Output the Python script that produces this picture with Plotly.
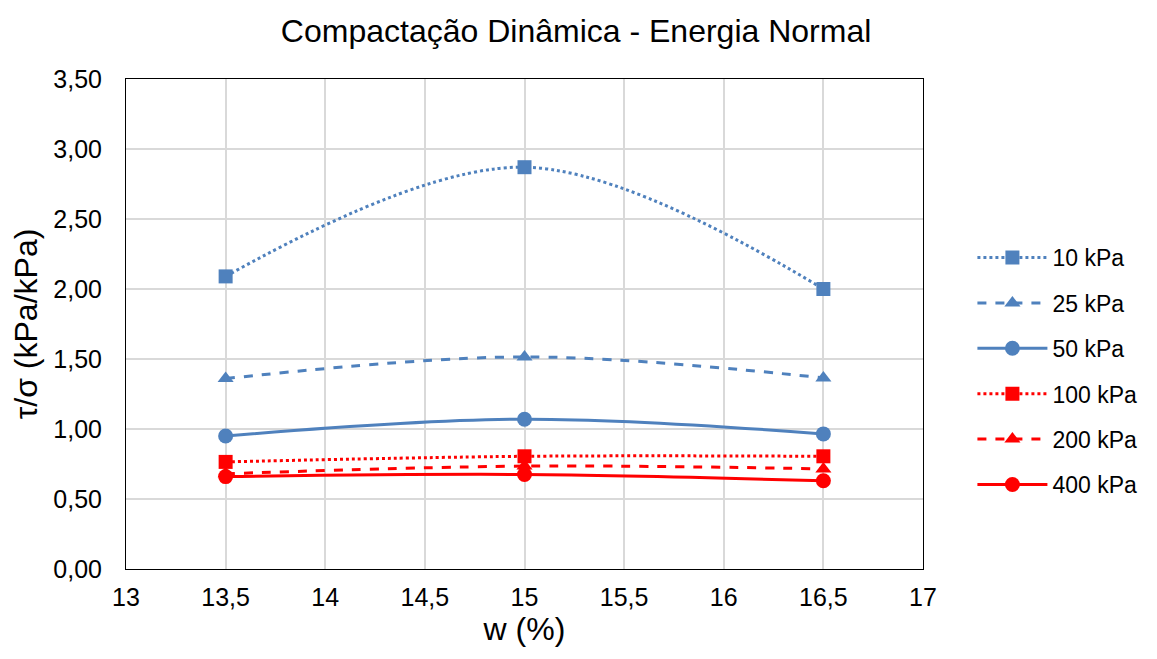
import plotly.graph_objects as go

w = [13.5, 15, 16.5]
series_names = ["10 kPa", "25 kPa", "50 kPa", "100 kPa", "200 kPa", "400 kPa"]
v10 = [2.09, 2.87, 2.00]
v25 = [1.36, 1.515, 1.365]
v50 = [0.95, 1.07, 0.965]
v100 = [0.765, 0.805, 0.805]
v200 = [0.68, 0.735, 0.715]
v400 = [0.66, 0.675, 0.63]
values = [v10, v25, v50, v100, v200, v400]

blue = "#4F81BD"
red = "#FF0000"
colors = [blue, blue, blue, red, red, red]
dashes = ["dot", "dash", "solid", "dot", "dash", "solid"]
symbols = ["square", "triangle-up", "circle", "square", "triangle-up", "circle"]
msizes = [14, 14, 15, 14, 14, 15]

x_ticks = [13, 13.5, 14, 14.5, 15, 15.5, 16, 16.5, 17]
y_ticks = [0, 0.5, 1.0, 1.5, 2.0, 2.5, 3.0, 3.5]

fig = go.Figure()
for i, (name, vals, c, d, s, ms) in enumerate(zip(series_names, values, colors, dashes, symbols, msizes)):
    fig.add_trace(go.Scatter(
        x=w, y=vals, name=name, mode="lines+markers", legendgroup=f"g{i}",
        line=dict(color=c, dash=d, width=3, shape="spline", smoothing=1),
        marker=dict(symbol=s, size=ms, color=c),
    ))

fig.update_layout(
    width=1157, height=659,
    paper_bgcolor="white", plot_bgcolor="white",
    font=dict(family="Liberation Sans, Arial", color="#000000", size=25),
    separators=",.",
    title=dict(text="Compactação Dinâmica - Energia Normal", x=0.491, xanchor="center",
               y=0.965, yanchor="middle", font=dict(size=32)),
    margin=dict(l=118, r=242, t=71, b=98, autoexpand=False),
    legend=dict(x=1.062, y=0.404, xanchor="left", yanchor="middle",
                font=dict(size=23), traceorder="grouped", tracegroupgap=12.5, itemwidth=70,
                borderwidth=0, bgcolor="rgba(0,0,0,0)"),
    xaxis=dict(range=[13, 17], tickvals=x_ticks, showgrid=True, gridcolor="#D9D9D9",
               gridwidth=1.5, zeroline=False, showline=True, linecolor="#000000",
               linewidth=1, mirror=True, ticks="outside",
               ticklen=6, tickcolor="rgba(0,0,0,0)",
               title=dict(text="w (%)", font=dict(size=32), standoff=4),
               tickfont=dict(size=25)),
    yaxis=dict(range=[0, 3.5], tickvals=y_ticks, tickformat=".2f", showgrid=True,
               gridcolor="#D9D9D9", gridwidth=1.5, zeroline=False, showline=True,
               linecolor="#000000", linewidth=1, mirror=True,
               ticks="outside", ticklen=18, tickcolor="rgba(0,0,0,0)",
               title=dict(text="τ/σ (kPa/kPa)", font=dict(size=32), standoff=10),
               tickfont=dict(size=25)),
)

fig.write_html("out.html")
